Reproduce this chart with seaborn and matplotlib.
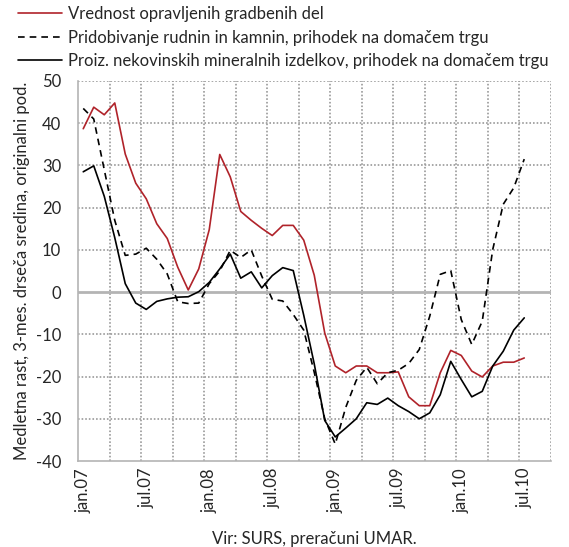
import numpy as np
import pandas as pd
import matplotlib
matplotlib.use("Agg")
import matplotlib.pyplot as plt
import seaborn as sns

# ---- data -------------------------------------------------------------
months = [f"{m}.{y:02d}" for y in (7, 8, 9, 10)
          for m in ["jan", "feb", "mar", "apr", "maj", "jun",
                    "jul", "avg", "sep", "okt", "nov", "dec"]][:43]

gradbena_dela = [38.7, 43.8, 42.0, 44.8, 32.7, 25.8, 22.1, 16.2, 12.7, 5.9,
                 0.5, 5.5, 14.8, 32.6, 27.3, 19.1, 17.0, 15.1, 13.4, 15.8,
                 15.8, 12.3, 4.0, -9.7, -17.5, -19.1, -17.5, -17.5, -19.1, -19.1,
                 -18.9, -24.8, -26.9, -26.9, -19.1, -13.8, -15.0, -18.7, -20.1, -17.5,
                 -16.6, -16.6, -15.6]

rudnine_kamnine = [43.5, 41.0, 29.0, 17.0, 8.7, 9.0, 10.4, 7.8, 4.3, -2.3,
                   -2.7, -2.6, 2.0, 5.0, 9.9, 8.2, 10.0, 3.8, -1.7, -2.1,
                   -5.3, -9.0, -19.0, -30.0, -36.0, -27.3, -20.9, -17.8, -21.7, -19.1,
                   -18.5, -16.9, -13.6, -5.7, 4.2, 5.1, -6.5, -12.4, -6.9, 10.1,
                   20.8, 24.7, 31.5]

nekovinski_izdelki = [28.5, 29.9, 22.7, 12.9, 2.0, -2.6, -4.1, -2.2, -1.6, -1.2,
                      -1.1, 0.1, 2.3, 5.5, 9.0, 3.3, 4.8, 1.0, 3.9, 5.8,
                      5.1, -5.5, -17.0, -30.4, -34.3, -32.2, -30.0, -26.2, -26.6, -25.1,
                      -26.9, -28.3, -30.0, -28.6, -24.3, -16.4, -20.7, -24.8, -23.5, -17.5,
                      -14.0, -9.0, -6.1]

series_names = ["Vrednost opravljenih gradbenih del",
                "Pridobivanje rudnin in kamnin, prihodek na domačem trgu",
                "Proiz. nekovinskih mineralnih izdelkov, prihodek na domačem trgu"]

tick_labels = ["jan.07", "jul.07", "jan.08", "jul.08",
               "jan.09", "jul.09", "jan.10", "jul.10"]

y_label = "Medletna rast, 3-mes. drseča sredina, originalni pod."
x_label = "Vir: SURS, preračuni UMAR."

# ---- styling ----------------------------------------------------------
sns.set_style("white")
plt.rcParams["font.family"] = ["Lato", "DejaVu Sans"]
plt.rcParams["font.size"] = 12

fig = plt.figure(figsize=(5.69, 5.47), dpi=100)
ax = fig.add_axes([78 / 569, 1 - 461 / 547, (550.5 - 78) / 569, (461 - 81) / 547])

idx = np.arange(len(months))
df = pd.DataFrame({"idx": idx, "month": months,
                   series_names[0]: gradbena_dela,
                   series_names[1]: rudnine_kamnine,
                   series_names[2]: nekovinski_izdelki})

red = "#B0232A"
sns.lineplot(data=df, x="idx", y=series_names[0], ax=ax, color=red,
             lw=1.2, label=series_names[0], zorder=4)
sns.lineplot(data=df, x="idx", y=series_names[1], ax=ax, color="black",
             lw=1.2, label=series_names[1], zorder=4)
ax.lines[-1].set_dashes((4, 3))
sns.lineplot(data=df, x="idx", y=series_names[2], ax=ax, color="black",
             lw=1.2, label=series_names[2], zorder=4)

# axes
ax.set_xlim(-0.5, 44.5)
ax.set_ylim(-40, 50)
ax.set_yticks(np.arange(-40, 51, 10))
ax.set_yticklabels([str(v) for v in range(-40, 51, 10)])
major = [months.index(t) for t in tick_labels]
ax.set_xticks(major)
ax.set_xticklabels(tick_labels, rotation=90)

# dotted grid: vertical lines every 3 categories, horizontal every 10
grid_kw = dict(color="#A0A0A0", linewidth=1.3, linestyle=(0, (0.9, 1.1)),
               zorder=2.5, solid_capstyle="butt")
for xv in np.arange(2.5, 45, 3):
    ax.axvline(xv, **grid_kw)
for yv in range(-30, 51, 10):
    if yv != 0:
        ax.axhline(yv, **grid_kw)
ax.axhline(0, color="#B4B4B4", lw=2.0, zorder=3)

for s in ["top", "right"]:
    ax.spines[s].set_visible(False)
for s in ["left", "bottom"]:
    ax.spines[s].set_color("#B4B4B4")
    ax.spines[s].set_linewidth(1.2)

ax.tick_params(axis="y", which="both", length=0, pad=12, labelsize=12)
ax.tick_params(axis="x", which="both", length=0, pad=5, labelsize=12)

ax.set_ylabel(y_label, fontsize=12, labelpad=4)
ax.set_xlabel(x_label, fontsize=12, labelpad=13)

# legend at top-left of figure
ax.get_legend().remove()
handles, labels = ax.get_legend_handles_labels()
leg = fig.legend(handles, labels, loc="upper left",
                 bbox_to_anchor=(18 / 569, 1 - 6 / 547),
                 frameon=False, borderpad=0, borderaxespad=0,
                 handlelength=2.63, handletextpad=0.36, labelspacing=0.45,
                 fontsize=12)
leg.legend_handles[1].set_dashes((4, 3))

fig.savefig("out.png", dpi=100)
